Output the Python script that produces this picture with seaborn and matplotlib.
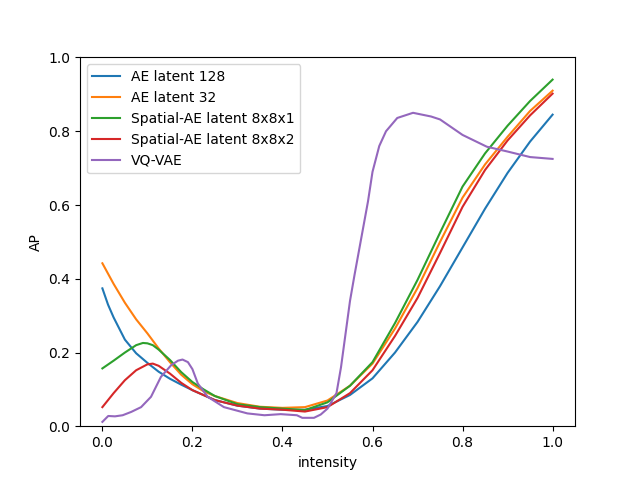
import matplotlib
matplotlib.use("Agg")
import matplotlib.pyplot as plt
import seaborn as sns
import pandas as pd

names = ["AE latent 128", "AE latent 32", "Spatial-AE latent 8x8x1",
         "Spatial-AE latent 8x8x2", "VQ-VAE"]

x_ae128 = [0, 0.0125, 0.025, 0.0375, 0.05, 0.075, 0.1, 0.125, 0.15, 0.175,
           0.2, 0.25, 0.3, 0.35, 0.4, 0.45, 0.5, 0.55, 0.6, 0.65, 0.7, 0.75,
           0.8, 0.85, 0.9, 0.95, 1.0]
y_ae128 = [0.374, 0.33, 0.295, 0.265, 0.235, 0.198, 0.172, 0.148, 0.129,
           0.113, 0.098, 0.071, 0.056, 0.048, 0.045, 0.045, 0.055, 0.085,
           0.13, 0.2, 0.283, 0.38, 0.485, 0.59, 0.687, 0.772, 0.845]

x_ae32 = [0, 0.025, 0.05, 0.075, 0.1, 0.125, 0.15, 0.175, 0.2, 0.225, 0.25,
          0.3, 0.35, 0.4, 0.45, 0.5, 0.55, 0.6, 0.65, 0.7, 0.75, 0.8, 0.85,
          0.9, 0.95, 1.0]
y_ae32 = [0.442, 0.386, 0.335, 0.29, 0.252, 0.211, 0.174, 0.14, 0.114,
          0.095, 0.082, 0.063, 0.053, 0.05, 0.052, 0.07, 0.11, 0.17, 0.265,
          0.375, 0.5, 0.62, 0.71, 0.785, 0.855, 0.91]

x_sp1 = [0, 0.025, 0.05, 0.075, 0.09, 0.1, 0.112, 0.125, 0.15, 0.175, 0.2,
         0.225, 0.25, 0.3, 0.35, 0.4, 0.45, 0.5, 0.55, 0.6, 0.65, 0.7, 0.75,
         0.8, 0.85, 0.9, 0.95, 1.0]
y_sp1 = [0.157, 0.178, 0.2, 0.22, 0.226, 0.225, 0.22, 0.208, 0.18, 0.147,
         0.12, 0.1, 0.082, 0.06, 0.052, 0.048, 0.044, 0.065, 0.11, 0.174,
         0.28, 0.397, 0.525, 0.65, 0.74, 0.815, 0.882, 0.94]

x_sp2 = [0, 0.025, 0.05, 0.075, 0.1, 0.112, 0.125, 0.15, 0.175, 0.2, 0.25,
         0.3, 0.35, 0.4, 0.45, 0.5, 0.55, 0.6, 0.65, 0.7, 0.75, 0.8, 0.85,
         0.9, 0.95, 1.0]
y_sp2 = [0.052, 0.09, 0.125, 0.152, 0.168, 0.17, 0.164, 0.143, 0.118, 0.098,
         0.071, 0.056, 0.048, 0.045, 0.04, 0.052, 0.09, 0.152, 0.245, 0.348,
         0.47, 0.595, 0.695, 0.775, 0.843, 0.902]

x_vq = [0, 0.013, 0.028, 0.045, 0.064, 0.086, 0.108, 0.13, 0.153, 0.168,
        0.178, 0.19, 0.2, 0.212, 0.234, 0.27, 0.322, 0.36, 0.396, 0.432,
        0.444, 0.47, 0.485, 0.5, 0.52, 0.53, 0.54, 0.55, 0.56, 0.575, 0.59,
        0.6, 0.615, 0.63, 0.655, 0.69, 0.73, 0.75, 0.8, 0.854, 0.9, 0.95,
        1.0]
y_vq = [0.012, 0.028, 0.027, 0.03, 0.039, 0.052, 0.08, 0.134, 0.166, 0.178,
        0.181, 0.174, 0.155, 0.116, 0.08, 0.052, 0.035, 0.03, 0.033, 0.03,
        0.023, 0.023, 0.032, 0.048, 0.09, 0.16, 0.25, 0.34, 0.41, 0.51, 0.61,
        0.69, 0.76, 0.8, 0.836, 0.85, 0.84, 0.832, 0.79, 0.758, 0.745, 0.73,
        0.725]

xs = [x_ae128, x_ae32, x_sp1, x_sp2, x_vq]
ys = [y_ae128, y_ae32, y_sp1, y_sp2, y_vq]

frames = []
for n, xx, yy in zip(names, xs, ys):
    frames.append(pd.DataFrame({"intensity": xx, "AP": yy, "model": n}))
df = pd.concat(frames, ignore_index=True)

fig, ax = plt.subplots(figsize=(6.39, 4.79), dpi=100)
sns.lineplot(data=df, x="intensity", y="AP", hue="model", hue_order=names,
             palette=sns.color_palette("tab10", 5), estimator=None,
             sort=False, linewidth=1.5, ax=ax)
ax.set_ylim(0, 1)
ax.legend(loc="upper left", title=None)
fig.savefig("out.png", dpi=100)
